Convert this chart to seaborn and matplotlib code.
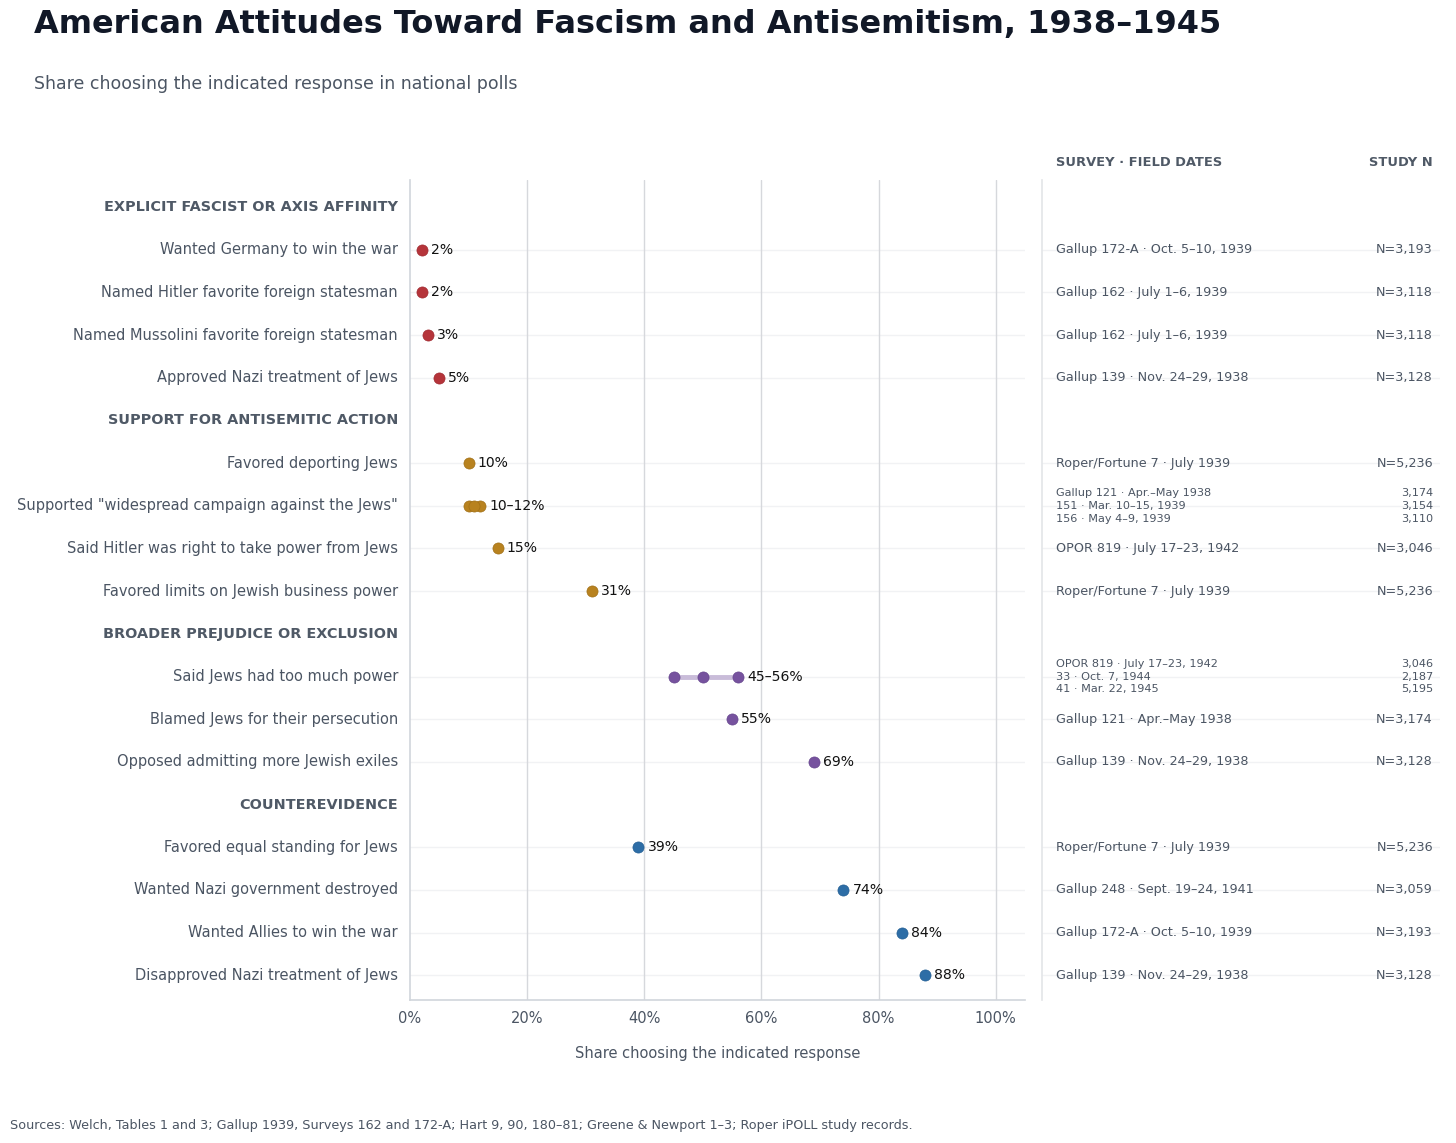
import matplotlib
matplotlib.use("Agg")
import matplotlib.pyplot as plt
import matplotlib.transforms as mtransforms
import seaborn as sns
import pandas as pd
import numpy as np

# ---------------- data ----------------
row_labels = [
    "EXPLICIT FASCIST OR AXIS AFFINITY",
    "Wanted Germany to win the war",
    "Named Hitler favorite foreign statesman",
    "Named Mussolini favorite foreign statesman",
    "Approved Nazi treatment of Jews",
    "SUPPORT FOR ANTISEMITIC ACTION",
    "Favored deporting Jews",
    "Supported \"widespread campaign against the Jews\"",
    "Said Hitler was right to take power from Jews",
    "Favored limits on Jewish business power",
    "BROADER PREJUDICE OR EXCLUSION",
    "Said Jews had too much power",
    "Blamed Jews for their persecution",
    "Opposed admitting more Jewish exiles",
    "COUNTEREVIDENCE",
    "Favored equal standing for Jews",
    "Wanted Nazi government destroyed",
    "Wanted Allies to win the war",
    "Disapproved Nazi treatment of Jews",
]
is_header = [True, False, False, False, False,
             True, False, False, False, False,
             True, False, False, False,
             True, False, False, False, False]
groups = ["fascist", "fascist", "fascist", "fascist", "fascist",
          "antisemitic", "antisemitic", "antisemitic", "antisemitic", "antisemitic",
          "prejudice", "prejudice", "prejudice", "prejudice",
          "counter", "counter", "counter", "counter", "counter"]
values = [[], [2], [2], [3], [5],
          [], [10], [10, 12, 11], [15], [31],
          [], [45, 50, 56], [55], [69],
          [], [39], [74], [84], [88]]
value_labels = ["", "2%", "2%", "3%", "5%",
                "", "10%", "10–12%", "15%", "31%",
                "", "45–56%", "55%", "69%",
                "", "39%", "74%", "84%", "88%"]
surveys = [
    [], ["Gallup 172-A · Oct. 5–10, 1939"], ["Gallup 162 · July 1–6, 1939"],
    ["Gallup 162 · July 1–6, 1939"], ["Gallup 139 · Nov. 24–29, 1938"],
    [], ["Roper/Fortune 7 · July 1939"],
    ["Gallup 121 · Apr.–May 1938", "151 · Mar. 10–15, 1939", "156 · May 4–9, 1939"],
    ["OPOR 819 · July 17–23, 1942"], ["Roper/Fortune 7 · July 1939"],
    [], ["OPOR 819 · July 17–23, 1942", "33 · Oct. 7, 1944", "41 · Mar. 22, 1945"],
    ["Gallup 121 · Apr.–May 1938"], ["Gallup 139 · Nov. 24–29, 1938"],
    [], ["Roper/Fortune 7 · July 1939"], ["Gallup 248 · Sept. 19–24, 1941"],
    ["Gallup 172-A · Oct. 5–10, 1939"], ["Gallup 139 · Nov. 24–29, 1938"],
]
study_n = [
    [], ["N=3,193"], ["N=3,118"], ["N=3,118"], ["N=3,128"],
    [], ["N=5,236"], ["3,174", "3,154", "3,110"], ["N=3,046"], ["N=5,236"],
    [], ["3,046", "2,187", "5,195"], ["N=3,174"], ["N=3,128"],
    [], ["N=5,236"], ["N=3,059"], ["N=3,193"], ["N=3,128"],
]
x_ticks = [0, 20, 40, 60, 80, 100]
x_tick_labels = ["0%", "20%", "40%", "60%", "80%", "100%"]

palette = {"fascist": "#b5343a", "antisemitic": "#b8821f",
           "prejudice": "#76529e", "counter": "#2d6da6"}
range_colors = {"fascist": "#e0b3b5", "antisemitic": "#e6d2a8",
                "prejudice": "#c9bcd9", "counter": "#b3c8de"}
edge_colors = {"fascist": "#a02a30", "antisemitic": "#a17017",
               "prejudice": "#66468e", "counter": "#245f94"}

# ---------------- figure ----------------
sns.set_theme(style="white")
plt.rcParams["font.family"] = ["DejaVu Sans"]

TXT = "#4b5563"
HDR = "#4f5966"
fig = plt.figure(figsize=(14.56, 11.43), dpi=100)
ax = fig.add_axes([0.2816, 0.1251, 0.4224, 0.7174])
axt = fig.add_axes([0.7157, 0.1251, 0.2733, 0.7174])

pts = []
for i, (vals, g) in enumerate(zip(values, groups)):
    for v in vals:
        pts.append({"row": i, "value": v, "group": g})
df = pd.DataFrame(pts)

# row guide lines
for i, h in enumerate(is_header):
    if not h:
        ax.axhline(i, color="#f1f2f4", lw=1, zorder=0)
        axt.axhline(i, color="#f1f2f4", lw=1, zorder=0)

# vertical grid
for t in x_ticks[1:]:
    ax.axvline(t, color="#d6d8dc", lw=1, zorder=0.5)

# range lines
for i, (vals, g) in enumerate(zip(values, groups)):
    if len(vals) > 1:
        ax.plot([min(vals), max(vals)], [i, i], color=range_colors[g],
                lw=3.5, solid_capstyle="butt", zorder=1)

for g in palette:
    sub = df[df["group"] == g]
    sns.scatterplot(data=sub, x="value", y="row", color=palette[g], s=64,
                    edgecolor=edge_colors[g], linewidth=0.5, ax=ax, zorder=3,
                    legend=False)

# value labels
for i, (vals, lab) in enumerate(zip(values, value_labels)):
    if vals:
        ax.annotate(lab, (max(vals), i), xytext=(6.5, 0), textcoords="offset points",
                    ha="left", va="center", fontsize=10.1, color="#111111", zorder=4)

ax.set_xlim(0, 105)
ax.set_ylim(18.58, -0.633)
ax.set_xticks(x_ticks)
ax.set_xticklabels(x_tick_labels, fontsize=10.5, color=TXT)
ax.set_yticks([])
ax.tick_params(axis="x", length=0, pad=8)
ax.set_xlabel("Share choosing the indicated response", fontsize=10.5, color=TXT, labelpad=14)
ax.set_ylabel("")
for s in ["top", "right"]:
    ax.spines[s].set_visible(False)
for s in ["left", "bottom"]:
    ax.spines[s].set_color("#d1d5db")
    ax.spines[s].set_linewidth(1.2)

# category labels
lab_tr = mtransforms.blended_transform_factory(ax.transAxes, ax.transData)
lab_tr = lab_tr + mtransforms.ScaledTranslation(-12 / 100, 0, fig.dpi_scale_trans)
for i, (lab, h) in enumerate(zip(row_labels, is_header)):
    ax.text(0, i, lab, transform=lab_tr, ha="right", va="center",
            fontsize=10.4 if h else 10.55, fontweight="bold" if h else "normal",
            color=HDR if h else TXT)

# table
axt.set_xlim(0, 1)
axt.set_ylim(18.58, -0.633)
axt.set_xticks([])
axt.set_yticks([])
for s in ["top", "right", "bottom"]:
    axt.spines[s].set_visible(False)
axt.spines["left"].set_color("#e3e5e8")
axt.spines["left"].set_linewidth(1.2)
x_left = 14 / 398
x_right = 391 / 398
for i, (sv, nn) in enumerate(zip(surveys, study_n)):
    if len(sv) == 1:
        axt.text(x_left, i, sv[0], ha="left", va="center", fontsize=9.2, color=TXT)
        axt.text(x_right, i, nn[0], ha="right", va="center", fontsize=9.2, color=TXT)
    elif len(sv) > 1:
        k = len(sv)
        for j in range(k):
            yy = i + (j - (k - 1) / 2) * 0.3
            axt.text(x_left, yy, sv[j], ha="left", va="center", fontsize=8.1, color=TXT)
            axt.text(x_right, yy, nn[j], ha="right", va="center", fontsize=8.1, color=TXT)

fig.text(1056 / 1456, 1 - 162 / 1143, "SURVEY · FIELD DATES", ha="left", va="center",
         fontsize=9.4, fontweight="bold", color=HDR)
fig.text(1433 / 1456, 1 - 162 / 1143, "STUDY N", ha="right", va="center",
         fontsize=9.4, fontweight="bold", color=HDR)

# titles
fig.text(34 / 1456, 1 - 24 / 1143, "American Attitudes Toward Fascism and Antisemitism, 1938–1945",
         ha="left", va="center", fontsize=23, fontweight="bold", color="#111827")
fig.text(34 / 1456, 1 - 84 / 1143, "Share choosing the indicated response in national polls",
         ha="left", va="center", fontsize=12.5, color=TXT)
fig.text(10 / 1456, 1 - 1126 / 1143,
         "Sources: Welch, Tables 1 and 3; Gallup 1939, Surveys 162 and 172-A; Hart 9, 90, 180–81; "
         "Greene & Newport 1–3; Roper iPOLL study records.",
         ha="left", va="center", fontsize=9.2, color=TXT)

fig.savefig("out.png", dpi=100, facecolor="white")
